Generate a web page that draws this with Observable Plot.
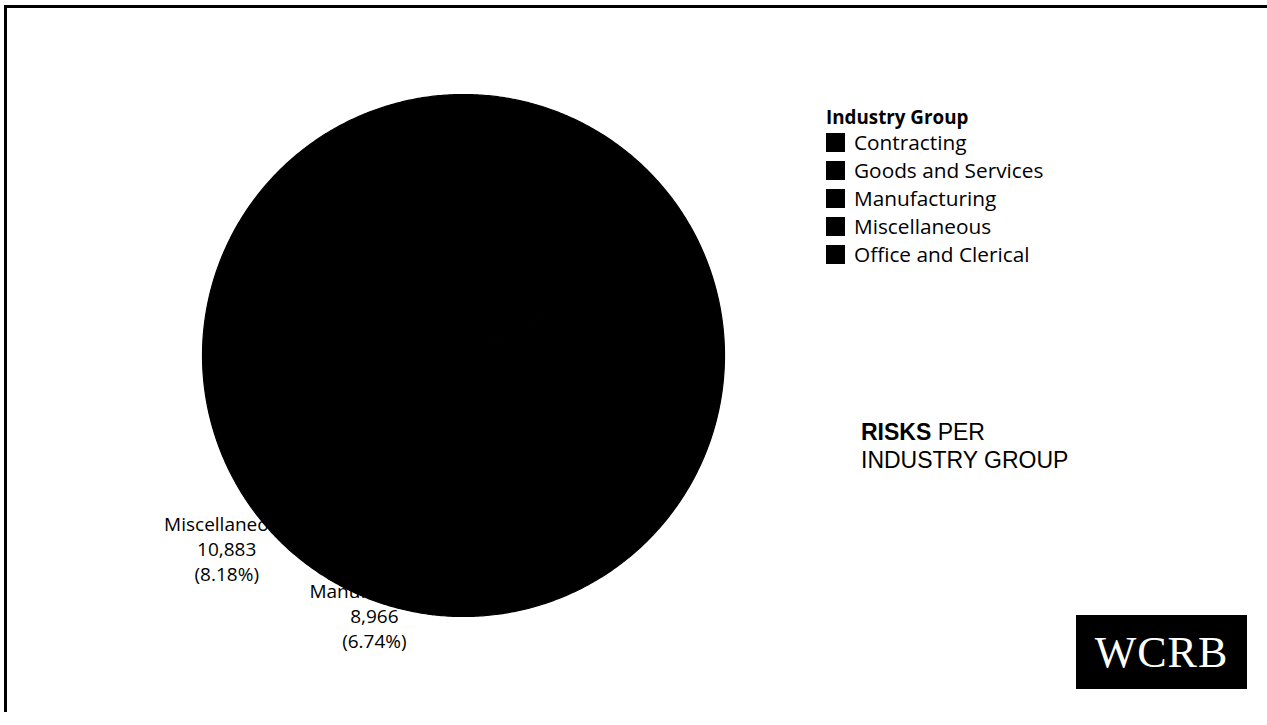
<!DOCTYPE html>
<html>
<head>
<meta charset="utf-8">
<script src="https://cdn.jsdelivr.net/npm/d3@7"></script>
<script src="https://cdn.jsdelivr.net/npm/@observablehq/plot@0.6"></script>
<style>
  html, body { margin: 0; padding: 0; background: #fff; }
  #page { position: relative; width: 1267px; height: 725px; overflow: hidden; background: #fff; }
  #chart { position: absolute; left: 0; top: 0; }
  .frameTop { position: absolute; left: 4px; top: 5px; width: 1263px; height: 3px; background: #000; }
  .frameLeft { position: absolute; left: 4px; top: 5px; width: 3px; height: 707px; background: #000; }
  #legend { position: absolute; left: 826px; top: 0; font-family: "Open Sans", sans-serif; color: #000; }
  .lgTitle { position: absolute; left: 0; white-space: nowrap; font-weight: 700; font-size: 18.8px; line-height: 28px; }
  .lgRow { position: absolute; left: 0; height: 28px; display: flex; align-items: center; white-space: nowrap; font-size: 20.8px; }
  .lgSw { width: 19px; height: 19px; margin-right: 9px; display: inline-block; }
  #title { position: absolute; left: 861px; top: 418px; font-family: "Liberation Sans", Arial, sans-serif; font-size: 23px; line-height: 28px; color: #000; }
  #logo { position: absolute; left: 1076px; top: 615px; width: 171px; height: 74px; background: #000; color: #fff;
          font-family: "Liberation Serif", "DejaVu Serif", serif; font-size: 44px; letter-spacing: 1px;
          display: flex; align-items: center; justify-content: center; }
</style>
</head>
<body>
<div id="page">
  <div id="chart"></div>
  <div class="frameTop"></div>
  <div class="frameLeft"></div>
  <div id="legend"></div>
  <div id="title"><b>RISKS</b> PER<br>INDUSTRY GROUP</div>
  <div id="logo">WCRB</div>
</div>
<script>
// ---- data ----
const categories = ["Contracting", "Goods and Services", "Manufacturing", "Miscellaneous", "Office and Clerical"];
const risks = [23680, 45370, 8966, 10883, 44140];
const sliceColors = ["#000000", "#000000", "#000000", "#000000", "#000000"];
const legendTitle = "Industry Group";

// ---- layout ----
const W = 1267, H = 725;
const cx = 463, cy = 355, R = 261;
const labelRadius = [0.59, 0.59, 1.05, 1.17, 0.59];
const labelAngleShift = [0, 0, 0, 5, 0]; // degrees

const total = d3.sum(risks);
let acc = 0;
const slices = categories.map((c, i) => {
  const a0 = acc / total * 2 * Math.PI;
  acc += risks[i];
  const a1 = acc / total * 2 * Math.PI;
  return {category: c, value: risks[i], a0, a1, i};
});

const polyPts = [];
for (const s of slices) {
  polyPts.push({category: s.category, x: 0, y: 0});
  const n = Math.max(2, Math.ceil((s.a1 - s.a0) / (Math.PI / 360)));
  for (let k = 0; k <= n; k++) {
    const a = s.a0 + (s.a1 - s.a0) * k / n;
    polyPts.push({category: s.category, x: Math.sin(a), y: Math.cos(a)});
  }
  polyPts.push({category: s.category, x: 0, y: 0});
}

const fmtN = d3.format(",");
const fmtP = d3.format(".2%");
const labels = slices.map(s => {
  const a = (s.a0 + s.a1) / 2 + labelAngleShift[s.i] * Math.PI / 180;
  const r = labelRadius[s.i];
  return {
    x: r * Math.sin(a), y: r * Math.cos(a),
    text: `${s.category}\n${fmtN(s.value)}\n(${fmtP(s.value / total)})`
  };
});

const chart = Plot.plot({
  width: W, height: H,
  margin: 0,
  style: {background: "transparent"},
  x: {domain: [-1, 1], range: [cx - R, cx + R], axis: null},
  y: {domain: [-1, 1], range: [cy + R, cy - R], axis: null},
  color: {type: "ordinal", domain: categories, range: sliceColors},
  marks: [
    Plot.line(polyPts, {x: "x", y: "y", z: "category", fill: "category", stroke: "category", strokeWidth: 1.2}),
    Plot.text(labels, {x: "x", y: "y", text: "text", fill: "#000", fontSize: 19, lineHeight: 1.32,
                       fontFamily: "Open Sans, sans-serif"})
  ]
});
document.getElementById("chart").appendChild(chart);

// ---- legend ----
const lg = document.getElementById("legend");
const t = document.createElement("div");
t.className = "lgTitle";
t.style.top = (117 - 14) + "px";
t.textContent = legendTitle;
lg.appendChild(t);
categories.forEach((c, i) => {
  const row = document.createElement("div");
  row.className = "lgRow";
  row.style.top = (142 + i * 28.1 - 14) + "px";
  const sw = document.createElement("span");
  sw.className = "lgSw";
  sw.style.background = sliceColors[i];
  row.appendChild(sw);
  row.appendChild(document.createTextNode(c));
  lg.appendChild(row);
});
</script>
</body>
</html>
